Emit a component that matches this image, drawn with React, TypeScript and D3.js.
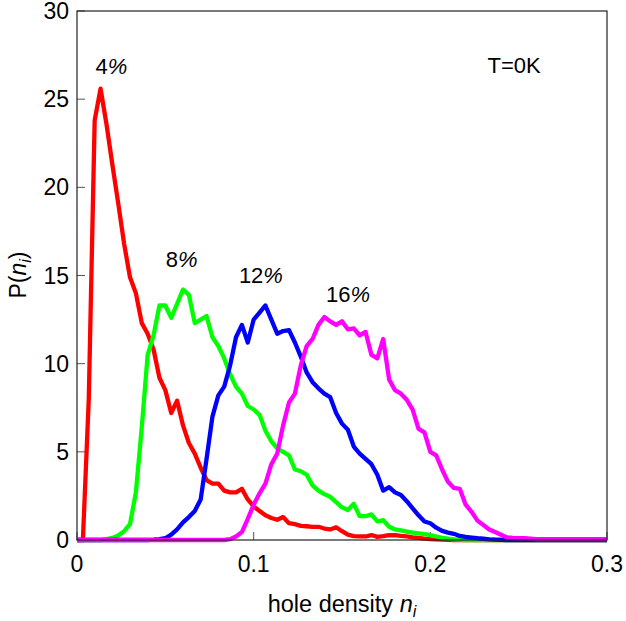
import React from 'react';
import * as d3 from 'd3';

// bin index k -> hole density n = k / BINS
const BINS = 300;

const red4 = [
  0, 0, 8.0, 23.8, 25.6, 23.6, 21.3, 19.1, 16.8, 14.9,
  14.0, 12.3, 11.7, 10.8, 9.2, 8.5, 7.2, 7.9, 6.5, 5.5,
  4.9, 4.1, 3.4, 3.2, 3.2, 2.8, 2.7, 2.7, 2.9, 2.3,
  1.9, 1.65, 1.4, 1.25, 1.15, 1.3, 0.95, 0.9, 0.8, 0.78,
  0.75, 0.75, 0.65, 0.6, 0.72, 0.5, 0.3, 0.22, 0.2, 0.2,
  0.28, 0.18, 0.22, 0.28, 0.27, 0.23, 0.2, 0.15, 0.12, 0.08,
  0.05, 0.03, 0.02, 0.01, 0, 0, 0, 0, 0, 0,
  0, 0, 0, 0, 0, 0, 0, 0, 0, 0,
  0, 0, 0, 0, 0, 0, 0, 0, 0, 0, 0,
];

const green8 = [
  0, 0, 0, 0, 0, 0.05, 0.12, 0.25, 0.5, 0.9,
  2.7, 6.4, 10.5, 11.6, 13.3, 13.3, 12.6, 13.4, 14.2, 13.9,
  12.3, 12.5, 12.7, 11.5, 11.0, 10.3, 9.4, 8.7, 8.3, 7.6,
  7.4, 7.1, 6.2, 5.6, 5.2, 5.0, 4.8, 4.0, 3.9, 3.7,
  3.1, 2.8, 2.6, 2.45, 2.15, 1.85, 1.7, 2.05, 1.35, 1.35,
  1.45, 1.05, 1.13, 0.75, 0.6, 0.55, 0.47, 0.42, 0.38, 0.33,
  0.28, 0.2, 0.12, 0.08, 0.04, 0.02, 0, 0, 0, 0,
  0, 0, 0, 0, 0, 0, 0, 0, 0, 0,
  0, 0, 0, 0, 0, 0, 0, 0, 0, 0, 0,
];

const blue12 = [
  0, 0, 0, 0, 0, 0, 0, 0, 0, 0,
  0, 0, 0, 0.02, 0.05, 0.1, 0.3, 0.6, 1.0, 1.3,
  1.65, 2.3, 4.6, 7.0, 8.2, 8.7, 9.9, 11.5, 12.2, 11.2,
  12.5, 12.9, 13.3, 12.5, 11.7, 11.85, 11.9, 11.2, 10.4, 9.5,
  8.95, 8.6, 8.3, 8.1, 7.2, 6.6, 6.25, 5.3, 4.9, 4.6,
  4.3, 3.7, 2.8, 3.0, 2.7, 2.55, 2.2, 1.8, 1.4, 1.05,
  0.95, 0.7, 0.52, 0.42, 0.35, 0.23, 0.18, 0.14, 0.1, 0.07,
  0.04, 0.02, 0.01, 0, 0, 0, 0, 0, 0, 0,
  0, 0, 0, 0, 0, 0, 0, 0, 0, 0, 0,
];

const magenta16 = [
  0, 0, 0, 0, 0, 0, 0, 0, 0, 0,
  0, 0, 0, 0, 0, 0, 0, 0, 0, 0,
  0, 0, 0, 0, 0, 0, 0.05, 0.2, 0.45, 1.2,
  2.0, 2.65, 3.2, 4.3, 4.9, 6.5, 7.8, 8.3, 9.9, 11.0,
  11.4, 12.2, 12.65, 12.4, 12.2, 12.4, 11.95, 12.0, 11.6, 11.8,
  10.5, 10.3, 11.4, 9.1, 8.5, 8.3, 7.95, 7.4, 6.3, 6.1,
  5.0, 4.8, 4.0, 3.3, 2.95, 2.9, 2.0, 1.6, 1.1, 0.85,
  0.6, 0.45, 0.3, 0.15, 0.12, 0.1, 0.1, 0.08, 0.05, 0.05,
  0.05, 0.05, 0.05, 0.05, 0.05, 0.05, 0.05, 0.05, 0.05, 0.05, 0.05,
];

const seriesValues = [red4, green8, blue12, magenta16];
const seriesColors = ['#ff0000', '#00ff00', '#0000ff', '#ff00ff'];
const seriesNames = ['4', '8', '12', '16'];
// label anchor (n, P) for each series annotation
const labelN = [0.0195, 0.0593, 0.1041, 0.1534];
const labelP = [26.43, 15.48, 14.57, 13.5];

const xTicks = [0, 0.1, 0.2, 0.3];
const xTickLabels = ['0', '0.1', '0.2', '0.3'];
const yTicks = [0, 5, 10, 15, 20, 25, 30];

const W = 626;
const H = 621;
const FONT = 'Liberation Sans, Arial, sans-serif';

export default function App() {
  const x = d3.scaleLinear().domain([0, 0.3]).range([77, 607]);
  const y = d3.scaleLinear().domain([0, 30]).range([540, 11]);

  const line = d3
    .line<number>()
    .x((_, i) => x(i / BINS))
    .y((v) => y(v));

  const [x0, x1] = x.range();
  const [yb, yt] = y.range();

  return (
    <svg
      width={W}
      height={H}
      style={{ position: 'absolute', left: 0, top: 0, background: '#fff' }}
      fontFamily={FONT}
    >
      <rect x={0} y={0} width={W} height={H} fill="#fff" />
      {/* ticks (inward) */}
      {xTicks.map((t) => (
        <line key={'xt' + t} x1={x(t)} x2={x(t)} y1={yb} y2={yb - 8} stroke="#555" strokeWidth={1} />
      ))}
      {yTicks.map((t) => (
        <line key={'yt' + t} x1={x0} x2={x0 + 8} y1={y(t)} y2={y(t)} stroke="#555" strokeWidth={1} />
      ))}
      {/* series */}
      {seriesValues.map((vals, i) => (
        <path
          key={'s' + i}
          d={line(vals) || ''}
          fill="none"
          stroke={seriesColors[i]}
          strokeWidth={4.3}
          strokeLinejoin="round"
          strokeLinecap="butt"
        />
      ))}
      {/* frame */}
      <rect x={x0} y={yt} width={x1 - x0} height={yb - yt} fill="none" stroke="#222" strokeWidth={1.2} />
      {/* tick labels */}
      {xTicks.map((t, i) => (
        <text key={'xl' + t} x={x(t)} y={572} fontSize={23} textAnchor="middle" fill="#000">
          {xTickLabels[i]}
        </text>
      ))}
      {yTicks.map((t) => (
        <text key={'yl' + t} x={69} y={y(t) + 8} fontSize={23} textAnchor="end" fill="#000">
          {t}
        </text>
      ))}
      {/* axis labels */}
      <text x={342} y={612} fontSize={23.5} textAnchor="middle" fill="#000">
        hole density <tspan fontStyle="italic">n</tspan>
        <tspan fontStyle="italic" fontSize={16} dy={5}>i</tspan>
      </text>
      <text
        transform={`translate(26, 275) rotate(-90)`}
        fontSize={23}
        textAnchor="middle"
        fill="#000"
      >
        P(<tspan fontStyle="italic">n</tspan>
        <tspan fontStyle="italic" fontSize={16} dy={5}>i</tspan>
        <tspan dy={-5}>)</tspan>
      </text>
      {/* series annotations */}
      {seriesNames.map((nm, i) => (
        <text key={'a' + i} x={x(labelN[i])} y={y(labelP[i])} fontSize={22} textAnchor="middle" fill="#000">
          {nm}
          <tspan fontStyle="italic">%</tspan>
        </text>
      ))}
      <text x={x(0.2474)} y={y(26.5)} fontSize={22} textAnchor="middle" fill="#000">
        T=0K
      </text>
    </svg>
  );
}
